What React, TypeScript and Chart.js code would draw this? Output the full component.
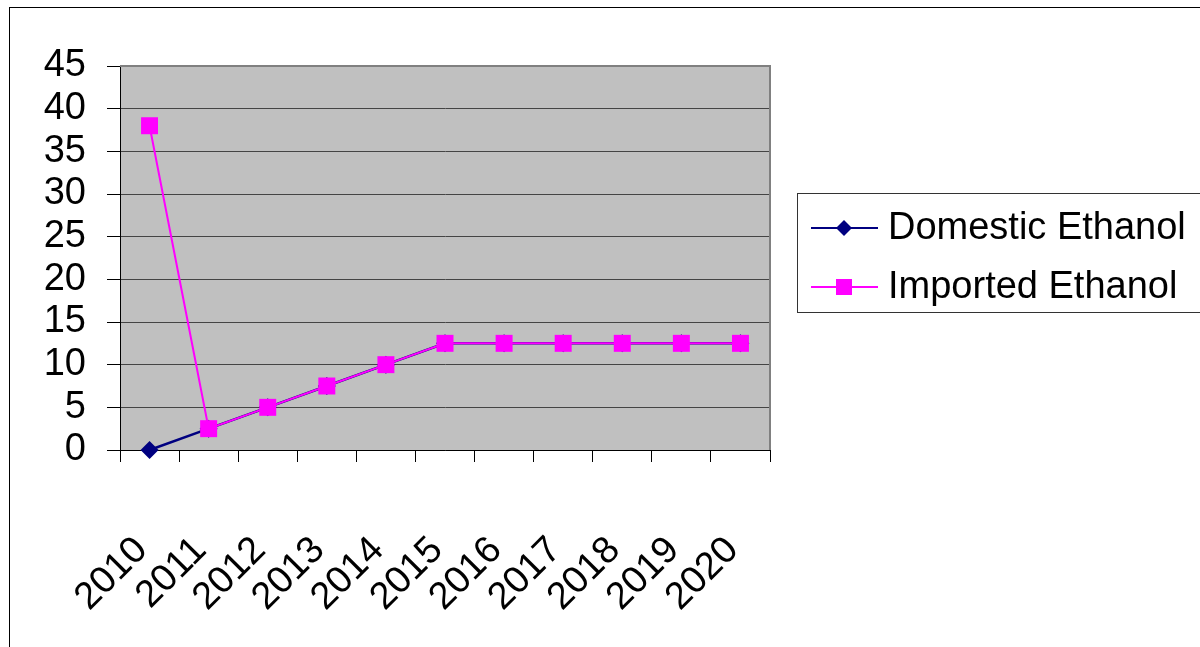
import React, { useEffect, useRef } from "react";
import { Chart, registerables } from "chart.js";

Chart.register(...registerables);

const years = ["2010", "2011", "2012", "2013", "2014", "2015", "2016", "2017", "2018", "2019", "2020"];
const domestic = [0, 2.5, 5, 7.5, 10, 12.5, 12.5, 12.5, 12.5, 12.5, 12.5];
const imported = [38, 2.5, 5, 7.5, 10, 12.5, 12.5, 12.5, 12.5, 12.5, 12.5];
const seriesNames = ["Domestic Ethanol", "Imported Ethanol"];
const seriesColors = ["#000080", "#FF00FF"];

const FONT = "'Liberation Sans', Arial, sans-serif";

const decorPlugin = {
  id: "decor",
  beforeDraw(chart: any) {
    const { ctx, chartArea: a } = chart;
    ctx.save();
    ctx.fillStyle = "#FFFFFF";
    ctx.fillRect(0, 0, chart.width, chart.height);
    ctx.strokeStyle = "#000";
    ctx.lineWidth = 1;
    ctx.strokeRect(9.5, 7.5, chart.width + 10, chart.height + 10);
    ctx.fillStyle = "#C0C0C0";
    ctx.fillRect(a.left, a.top, a.right - a.left, a.bottom - a.top);
    ctx.restore();
  },
  beforeDatasetsDraw(chart: any) {
    const { ctx, chartArea: a } = chart;
    ctx.save();
    ctx.strokeStyle = "#808080";
    ctx.lineWidth = 2;
    ctx.beginPath();
    ctx.moveTo(a.left, a.top);
    ctx.lineTo(a.right, a.top);
    ctx.lineTo(a.right, a.bottom);
    ctx.stroke();
    ctx.restore();
  },
  afterDraw(chart: any) {
    const { ctx } = chart;
    ctx.save();
    ctx.strokeStyle = "#333";
    ctx.lineWidth = 1;
    ctx.strokeRect(797.5, 193.5, 420, 119);
    const rows = [228, 287];
    ctx.font = `38px ${FONT}`;
    ctx.textBaseline = "middle";
    ctx.textAlign = "left";
    rows.forEach((y, i) => {
      ctx.strokeStyle = seriesColors[i];
      ctx.lineWidth = 2;
      ctx.beginPath();
      ctx.moveTo(811, y);
      ctx.lineTo(878, y);
      ctx.stroke();
      ctx.fillStyle = seriesColors[i];
      if (i === 0) {
        ctx.beginPath();
        ctx.moveTo(844, y - 8);
        ctx.lineTo(852, y);
        ctx.lineTo(844, y + 8);
        ctx.lineTo(836, y);
        ctx.closePath();
        ctx.fill();
      } else {
        ctx.fillRect(836, y - 8, 16, 16);
      }
      ctx.fillStyle = "#000";
      ctx.fillText(seriesNames[i], 888, y + 1);
    });
    ctx.restore();
  },
};

export default function App() {
  const ref = useRef<HTMLCanvasElement>(null);
  useEffect(() => {
    document.body.style.margin = "0";
    const chart = new Chart(ref.current!, {
      type: "line",
      data: {
        labels: years,
        datasets: [
          {
            label: seriesNames[0],
            data: domestic,
            borderColor: seriesColors[0],
            backgroundColor: seriesColors[0],
            borderWidth: 2.5,
            pointStyle: "rectRot",
            pointRadius: 9,
            pointBorderWidth: 0,
            tension: 0,
            clip: false,
            order: 1,
          },
          {
            label: seriesNames[1],
            data: imported,
            borderColor: seriesColors[1],
            backgroundColor: seriesColors[1],
            borderWidth: 2,
            pointStyle: "rect",
            pointRadius: 12,
            pointBorderWidth: 0,
            tension: 0,
            clip: false,
            order: 0,
          },
        ],
      },
      options: {
        responsive: false,
        animation: false,
        layout: { padding: { left: 0, top: 66, right: 430, bottom: 0 } },
        plugins: { legend: { display: false }, tooltip: { enabled: false } },
        scales: {
          x: {
            offset: true,
            grid: { offset: true, drawOnChartArea: false, drawTicks: true, tickLength: 12, color: "#000" },
            border: { display: true, color: "#000", width: 1 },
            ticks: {
              autoSkip: false,
              minRotation: 45,
              maxRotation: 45,
              padding: 66,
              labelOffset: -8,
              color: "#000",
              font: { family: FONT, size: 38 },
            },
            afterFit(scale: any) {
              scale.height = 197;
            },
          },
          y: {
            min: 0,
            max: 45,
            grid: { color: "#444", tickColor: "#000", tickLength: 13, drawTicks: true },
            border: { display: true, color: "#000", width: 1 },
            ticks: {
              stepSize: 5,
              autoSkip: false,
              padding: 21,
              color: "#000",
              font: { family: FONT, size: 38 },
            },
            afterFit(scale: any) {
              scale.width = 120;
            },
          },
        },
      },
      plugins: [decorPlugin],
    });
    return () => chart.destroy();
  }, []);
  return (
    <div style={{ position: "absolute", left: 0, top: 0, width: 1200, height: 647 }}>
      <canvas ref={ref} width={1200} height={647} style={{ width: 1200, height: 647, display: "block" }} />
    </div>
  );
}
